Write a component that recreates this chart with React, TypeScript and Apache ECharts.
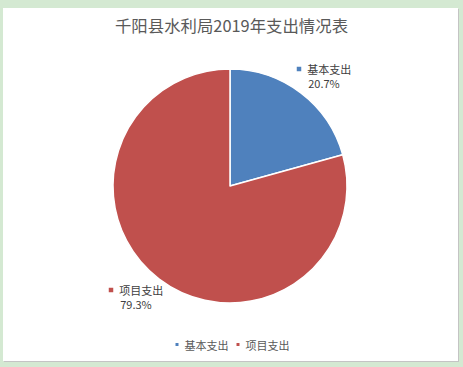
import React, { useEffect, useRef } from "react";
import * as echarts from "echarts";

const TITLE = "千阳县水利局2019年支出情况表";
const CATEGORIES = ["基本支出", "项目支出"];
const VALUES = [20.7, 79.3];
const COLORS = ["#4f81bd", "#c0504d"];
const LABEL_POS = [
  [324, 76],
  [136, 297],
];

const FONT = "'Noto Sans CJK SC', 'Noto Sans', sans-serif";

export default function App() {
  const ref = useRef<HTMLDivElement>(null);
  useEffect(() => {
    document.body.style.margin = "0";
    const chart = echarts.init(ref.current!, null, { renderer: "svg" });
    const total = VALUES.reduce((a, b) => a + b, 0);
    const rich: any = {
      s: { width: 6, align: "center" },
      t: { fontSize: 11, color: "#404040", fontFamily: FONT, align: "center", lineHeight: 14 },
      p: { fontSize: 11, color: "#404040", fontFamily: FONT, align: "center", lineHeight: 14 },
    };
    COLORS.forEach((c, i) => {
      rich["m" + i] = { width: 4.5, height: 4.5, backgroundColor: c, align: "center" };
    });
    chart.setOption({
      animation: false,
      backgroundColor: "#d4e9d2",
      color: COLORS,
      title: {
        text: TITLE,
        left: "center",
        top: 12,
        textStyle: { fontSize: 16.4, fontWeight: "normal", color: "#595959", fontFamily: FONT },
      },
      graphic: [
        { type: "rect", shape: { x: 4, y: 9, width: 455, height: 353 }, style: { fill: "#c4c4c4" }, z: -10 },
        { type: "rect", shape: { x: 3, y: 8, width: 455, height: 353 }, style: { fill: "#ffffff" }, z: -9 },
      ],
      legend: {
        data: CATEGORIES,
        top: 334,
        left: "center",
        icon: "rect",
        itemWidth: 5,
        itemHeight: 5,
        itemGap: 6,
        textStyle: { fontSize: 11, color: "#595959", fontFamily: FONT },
      },
      series: [
        {
          type: "pie",
          center: [230, 186],
          radius: 117,
          startAngle: 90,
          clockwise: true,
          data: CATEGORIES.map((n, i) => ({ name: n, value: VALUES[i] })),
          itemStyle: { borderColor: "#ffffff", borderWidth: 1.5 },
          label: {
            show: true,
            position: "outside",
            formatter: (p: any) =>
              `{m${p.dataIndex}| }{s| }{t|${p.name}}\n{p|${((p.value / total) * 100).toFixed(1)}%}`,
            rich,
          },
          labelLine: { show: false },
          labelLayout: (params: any) => ({
            x: LABEL_POS[params.dataIndex][0],
            y: LABEL_POS[params.dataIndex][1],
            align: "center",
            verticalAlign: "middle",
          }),
          emphasis: { disabled: true },
        },
      ],
    });
    return () => chart.dispose();
  }, []);
  return <div ref={ref} style={{ width: 463, height: 367 }} />;
}
